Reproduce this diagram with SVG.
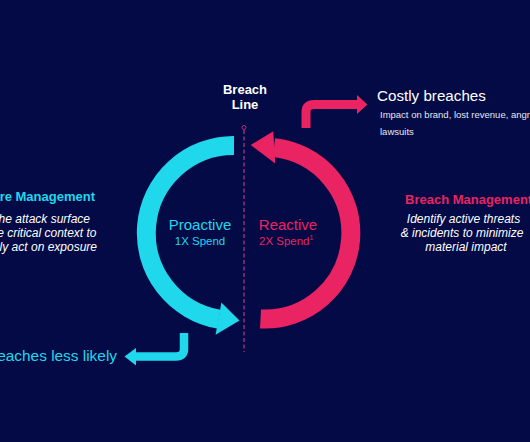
<svg xmlns="http://www.w3.org/2000/svg" width="530" height="442" viewBox="0 0 530 442">
<style>
.t{font-family:"Liberation Sans",Arial,sans-serif}
.b{font-weight:bold}
.i{font-style:italic}
.cy{fill:#1fd8ec}
.pk{fill:#ea2362}
.w{fill:#ffffff}
.cs{stroke:#1fd8ec;fill:none}
.ps{stroke:#ea2362;fill:none}
</style>
<rect width="530" height="442" fill="#030a45"/>
<g id="connectors">
<path class="cs" d="M234,145.5 A87.5,87.5 0 0 0 218.8,319.2" stroke-width="19"/>
<polygon class="cy" points="221.4,302.6 239.5,320.5 215.6,334.8"/>
<path class="ps" d="M260.5,319 A86,86 0 0 0 274,147.6" stroke-width="19"/>
<polygon class="pk" points="273.3,131.2 250.7,145 275.2,163.4"/>
<path class="ps" d="M306,128 V112 Q306,104.5 314,104.5 H358" stroke-width="9"/>
<polygon class="pk" points="357,95 367.5,104.5 357,114"/>
<path class="cs" d="M184,333 V349 Q184,356.5 176,356.5 H135" stroke-width="8.5"/>
<polygon class="cy" points="136,348 124.5,356.5 136,365.5"/>
<line x1="244" y1="130" x2="244" y2="352" stroke="#b0307f" stroke-width="1.3" stroke-dasharray="4,2.5"/>
<circle cx="244" cy="127.5" r="2" fill="none" stroke="#b0307f" stroke-width="1"/>
</g>
<g id="breach-line">
<text class="t b w" x="245" y="94" font-size="13" text-anchor="middle">Breach</text>
<text class="t b w" x="245" y="109" font-size="13" text-anchor="middle">Line</text>
</g>
<g id="proactive">
<text class="t cy" x="200" y="230" font-size="15" text-anchor="middle">Proactive</text>
<text class="t cy" x="200" y="245" font-size="11.5" text-anchor="middle">1X Spend</text>
</g>
<g id="reactive">
<text class="t pk" x="288" y="230" font-size="15" text-anchor="middle">Reactive</text>
<text class="t pk" x="259" y="245" font-size="11.5">2X Spend<tspan font-size="7" dy="-5">1</tspan></text>
</g>
<g id="costly-breaches">
<text class="t w" x="377" y="101" font-size="15.2">Costly breaches</text>
<text class="t" x="380" y="118" font-size="9.5" fill="#e4e6f0">Impact on brand, lost revenue, angry</text>
<text class="t" x="380" y="134.5" font-size="9.5" fill="#e4e6f0">lawsuits</text>
</g>
<g id="exposure-management">
<text class="t b cy" x="95" y="201" font-size="13" text-anchor="end">re Management</text>
<text class="t i w" x="90" y="222.5" font-size="12" text-anchor="end">he attack surface</text>
<text class="t i w" x="96.5" y="236.5" font-size="12" text-anchor="end">e critical context to</text>
<text class="t i w" x="97" y="250.5" font-size="12" text-anchor="end">ly act on exposure</text>
</g>
<g id="breach-management">
<text class="t b pk" x="405" y="204" font-size="13">Breach Management</text>
<text class="t i w" x="463.5" y="223" font-size="12" text-anchor="middle">Identify active threats</text>
<text class="t i w" x="462" y="237" font-size="12" text-anchor="middle">&amp; incidents to minimize</text>
<text class="t i w" x="466" y="251" font-size="12" text-anchor="middle">material impact</text>
</g>
<g id="less-likely">
<text class="t cy" x="117" y="360.5" font-size="15.4" text-anchor="end">eaches less likely</text>
</g>
</svg>
